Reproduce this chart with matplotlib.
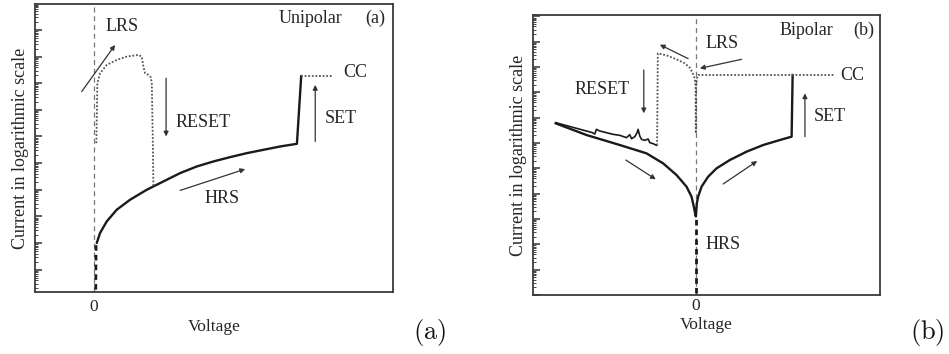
import matplotlib
matplotlib.use("Agg")
import matplotlib.pyplot as plt
import matplotlib.ticker as mticker
import numpy as np

plt.rcParams['font.family'] = ['Liberation Serif', 'DejaVu Serif']
plt.rcParams['mathtext.fontset'] = 'cm'

# ---------------- Panel (a): unipolar ----------------
# voltage (arb. units) and log10(current)
hrs_a_v = [0.027, 0.06, 0.127, 0.227, 0.36, 0.527, 0.66, 0.86, 1.027, 1.193, 1.36, 1.527, 1.693, 1.86, 2.027, 2.07]
hrs_a_logi = [-9.0, -8.625, -8.1875, -7.75, -7.375, -7.0, -6.75, -6.375, -6.125, -5.9375, -5.775, -5.625, -5.5, -5.375, -5.275, -2.725]
hrs_a_low_v = [0.017, 0.02]
hrs_a_low_logi = [-10.75, -9.0]
cc_a_v = [2.07, 2.39]
cc_a_logi = [-2.725, -2.725]
lrs_a_v = [0.023, 0.033, 0.06, 0.127, 0.227, 0.327, 0.443, 0.477, 0.493, 0.51, 0.543, 0.567, 0.577, 0.587, 0.593]
lrs_a_logi = [-5.25, -3.0, -2.625, -2.3125, -2.125, -2.0, -1.9375, -2.0, -2.375, -2.625, -2.6875, -2.775, -3.0, -5.125, -6.875]

# arrows: (x0, logy0, x1, logy1)
arrows_a = [(-0.123, -3.3125, 0.21, -1.5625),
            (0.72, -2.8125, 0.72, -5.0),
            (0.86, -7.025, 1.51, -6.225),
            (2.21, -5.1875, 2.21, -3.0625)]
# texts: (label, x, logy, ha)
texts_a = [("LRS", 0.277, -0.875, "center"),
           ("RESET", 0.81, -4.475, "left"),
           ("HRS", 1.277, -7.3375, "center"),
           ("SET", 2.31, -4.3125, "left"),
           ("CC", 2.493, -2.6, "left"),
           ("Unipolar", 1.843, -0.5625, "left"),
           ("(a)", 2.71, -0.5625, "left")]
xlim_a = (-0.59, 2.987)
ylim_a_log = (-10.84, -0.025)

# ---------------- Panel (b): bipolar ----------------
hrs_b_v = [-1.4, -1.093, -0.76, -0.493, -0.327, -0.193, -0.093, -0.043, -0.02, -0.007,
           0.0, 0.01, 0.023, 0.057, 0.123, 0.207, 0.34, 0.507, 0.673, 0.84, 0.957, 0.967]
hrs_b_logi = [-4.224, -4.684, -5.079, -5.408, -5.803, -6.263, -6.724, -7.118, -7.513, -7.776,
              -7.9, -7.382, -7.118, -6.724, -6.329, -6.0, -5.671, -5.342, -5.079, -4.882, -4.75, -2.316]
hrs_b_low_v = [0.0, 0.0]
hrs_b_low_logi = [-10.93, -7.9]
noise_b_v = [-1.4, -1.033, -1.01, -0.993, -0.96, -0.893, -0.827, -0.76, -0.693, -0.66, -0.643,
             -0.61, -0.587, -0.577, -0.56, -0.543, -0.51, -0.477, -0.46, -0.427, -0.393]
noise_b_logi = [-4.197, -4.592, -4.645, -4.461, -4.526, -4.592, -4.658, -4.697, -4.789, -4.671, -4.829,
                -4.75, -4.592, -4.461, -4.724, -4.855, -4.895, -4.842, -4.987, -5.026, -5.092]
lrs_b_v = [-0.387, -0.38, -0.293, -0.193, -0.11, -0.06, -0.027, -0.01, -0.003, 0.0, 0.003, 0.01, 0.023, 1.39]
lrs_b_logi = [-5.092, -1.461, -1.539, -1.697, -1.855, -2.026, -2.276, -2.461, -2.776, -4.618, -2.776, -2.461, -2.316, -2.316]

arrows_b = [(-0.077, -1.671, -0.36, -1.118),
            (0.457, -1.697, 0.04, -2.053),
            (-0.52, -2.118, -0.52, -3.829),
            (1.09, -4.75, 1.09, -3.039),
            (-0.7, -5.671, -0.4, -6.434),
            (0.273, -6.618, 0.613, -5.711)]
texts_b = [("LRS", 0.263, -1.066, "center"),
           ("RESET", -0.937, -2.882, "center"),
           ("SET", 1.34, -3.934, "center"),
           ("HRS", 0.273, -9.0, "center"),
           ("CC", 1.44, -2.316, "left"),
           ("Bipolar", 1.1, -0.566, "center"),
           ("(b)", 1.673, -0.566, "center")]
xlim_b = (-1.627, 1.84)
ylim_b_log = (-11.0, 0.053)

xlabel = "Voltage"
ylabel = "Current in logarithmic scale"
zero_tick = [0]
decades = list(range(-12, 2))

TXT = "#262626"
LINE = "#1a1a1a"
DOT = "#555555"

def P(a):
    return 10.0 ** np.asarray(a, dtype=float)

fig = plt.figure(figsize=(9.49, 3.54), dpi=100)
ax_a = fig.add_axes([35/949, 62/354, 358/949, 288/354])
ax_b = fig.add_axes([533/949, 59/354, 347/949, 280/354])

def style(ax, xlim, ylim_log, xlabelpad, ylabel_x, tickpad):
    ax.set_yscale('log')
    ax.set_xlim(*xlim)
    ax.set_ylim(10.0 ** ylim_log[0], 10.0 ** ylim_log[1])
    ax.axvline(0, color="#777777", lw=0.9, ls=(0, (4, 3)), zorder=1)
    ax.set_xticks(zero_tick)
    ax.set_xticklabels(["0"], fontsize=12.5, color=TXT)
    ax.tick_params(axis='x', which='both', length=0, pad=tickpad)
    majors = [10.0 ** d for d in decades]
    minors = [m * 10.0 ** d for d in decades for m in range(2, 10)]
    ax.yaxis.set_major_locator(mticker.FixedLocator(majors))
    ax.yaxis.set_minor_locator(mticker.FixedLocator(minors))
    ax.yaxis.set_major_formatter(mticker.NullFormatter())
    ax.yaxis.set_minor_formatter(mticker.NullFormatter())
    ax.tick_params(axis='y', which='major', direction='in', length=5, width=1.1, left=True, right=False, color="#333333")
    ax.tick_params(axis='y', which='minor', direction='in', length=2.2, width=0.7, left=True, right=False, color="#444444")
    ax.set_xlabel(xlabel, fontsize=12.5, color=TXT, labelpad=xlabelpad)
    ax.set_ylabel(ylabel, fontsize=13, color=TXT)
    ax.yaxis.set_label_coords(ylabel_x, 0.5)
    for s in ax.spines.values():
        s.set_color("#3a3a3a")
        s.set_linewidth(1.3)

def arrows(ax, lst):
    for x0, y0, x1, y1 in lst:
        ax.annotate("", xy=(x1, 10.0 ** y1), xytext=(x0, 10.0 ** y0),
                    arrowprops=dict(arrowstyle="-|>", color="#333333", lw=0.9,
                                    mutation_scale=7, shrinkA=0, shrinkB=0))

def texts(ax, lst):
    for s, x, y, ha in lst:
        ax.text(x, 10.0 ** y, s, ha=ha, va="center", fontsize=13, color=TXT)

# panel a
style(ax_a, xlim_a, ylim_a_log, 3, -0.016, 5)
ax_a.plot(hrs_a_v, P(hrs_a_logi), color=LINE, lw=1.7, solid_capstyle='round', zorder=3)
ax_a.plot(hrs_a_low_v, P(hrs_a_low_logi), color=LINE, lw=2.0, ls=(0, (2, 1.5)), zorder=3)
ax_a.plot(cc_a_v, P(cc_a_logi), color=DOT, lw=1.3, ls=(0, (1, 1)), zorder=3)
ax_a.plot(lrs_a_v, P(lrs_a_logi), color=DOT, lw=1.3, ls=(0, (1, 1)), zorder=3)
arrows(ax_a, arrows_a)
texts(ax_a, texts_a)

# panel b
style(ax_b, xlim_b, ylim_b_log, 2, -0.0185, 2)
ax_b.plot(hrs_b_v, P(hrs_b_logi), color=LINE, lw=1.7, zorder=3)
ax_b.plot(hrs_b_low_v, P(hrs_b_low_logi), color=LINE, lw=2.0, ls=(0, (2, 1.5)), zorder=3)
ax_b.plot(noise_b_v, P(noise_b_logi), color=LINE, lw=1.2, zorder=3)
ax_b.plot(lrs_b_v, P(lrs_b_logi), color=DOT, lw=1.3, ls=(0, (1, 1)), zorder=3)
arrows(ax_b, arrows_b)
texts(ax_b, texts_b)

fig.text(430/949, 1 - 333/354, r"$\mathrm{(a)}$", fontsize=19, ha="center", va="center", color="#111111")
fig.text(927/949, 1 - 333/354, r"$\mathrm{(b)}$", fontsize=19, ha="center", va="center", color="#111111")

fig.savefig("out.png", dpi=100)
